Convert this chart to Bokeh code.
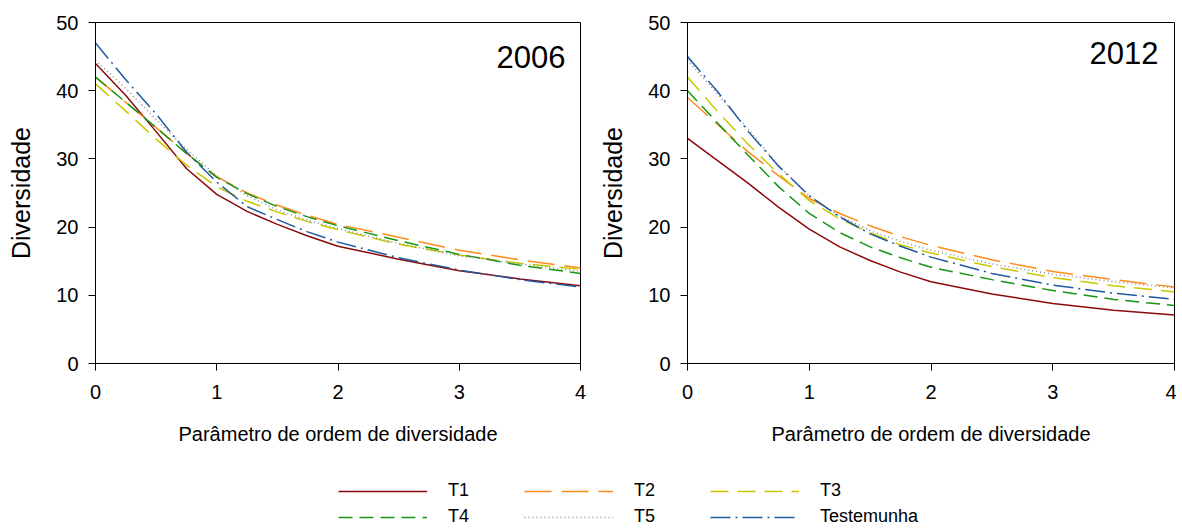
from bokeh.plotting import figure
from bokeh.models import Range1d, Label, Legend, LegendItem, FixedTicker
from bokeh.layouts import column, row
from bokeh.embed import file_html
from bokeh.resources import INLINE

# ---- data ----
q = [0, 0.25, 0.5, 0.75, 1, 1.25, 1.5, 1.75, 2, 2.5, 3, 3.5, 4]

series_names = ["T1", "T2", "T3", "T4", "T5", "Testemunha"]

d2006_T1 = [44.0, 39.3, 34.0, 28.6, 24.8, 22.3, 20.4, 18.7, 17.2, 15.3, 13.6, 12.4, 11.4]
d2006_T2 = [42.0, 38.3, 34.6, 30.8, 27.4, 25.0, 23.2, 21.7, 20.4, 18.5, 16.6, 15.2, 14.0]
d2006_T3 = [41.0, 37.0, 32.9, 29.1, 25.9, 23.8, 22.2, 20.8, 19.6, 17.5, 15.9, 14.7, 13.8]
d2006_T4 = [42.0, 38.3, 34.6, 30.8, 27.3, 24.9, 23.0, 21.5, 20.2, 18.0, 16.0, 14.4, 13.2]
d2006_T5 = [44.5, 40.3, 35.8, 31.4, 27.5, 24.6, 22.5, 21.0, 19.8, 17.6, 15.8, 14.6, 13.5]
d2006_Test = [47.0, 41.6, 36.6, 31.0, 26.6, 23.0, 21.1, 19.3, 17.8, 15.5, 13.7, 12.3, 11.2]

d2012_T1 = [33.0, 29.7, 26.4, 22.9, 19.7, 17.1, 15.1, 13.4, 12.0, 10.2, 8.8, 7.8, 7.1]
d2012_T2 = [39.0, 35.0, 31.0, 27.5, 24.2, 22.0, 20.2, 18.6, 17.3, 15.2, 13.5, 12.3, 11.2]
d2012_T3 = [42.0, 36.9, 32.1, 27.8, 23.9, 21.2, 19.2, 17.4, 16.2, 14.2, 12.6, 11.4, 10.5]
d2012_T4 = [40.0, 35.2, 30.5, 25.9, 22.0, 19.2, 17.1, 15.5, 14.1, 12.3, 10.7, 9.4, 8.5]
d2012_T5 = [44.5, 39.5, 34.3, 29.0, 24.6, 21.6, 19.5, 17.9, 16.6, 14.6, 13.1, 12.0, 11.1]
d2012_Test = [45.0, 39.8, 34.0, 28.9, 24.6, 21.5, 19.0, 17.2, 15.6, 13.2, 11.5, 10.3, 9.4]

x_ticks = [0, 1, 2, 3, 4]
y_ticks = [0, 10, 20, 30, 40, 50]
year_labels = ["2006", "2012"]
x_title = "Parâmetro de ordem de diversidade"
y_title = "Diversidade"

# ---- styles ----
FONT = "Liberation Sans"
colors = ["#8b0a0a", "#ff8c1a", "#c8c800", "#149614", "#8c8c8c", "#1f5a9e"]
dashes = ["solid", "27 10", "18 9", "14 7", "1 3", "20 5 2 5"]
LW = 1.5


def make_panel(data, year, border_left, frame_w, border_right, year_dx, year_dy):
    p = figure(output_backend="svg", toolbar_location=None,
               frame_width=frame_w, frame_height=341,
               min_border_left=border_left, min_border_right=border_right,
               min_border_top=22, min_border_bottom=100,
               x_range=Range1d(0, 4), y_range=Range1d(0, 50))
    p.background_fill_color = "white"
    p.border_fill_color = "white"
    p.outline_line_color = "black"
    p.outline_line_width = 1
    p.xgrid.visible = False
    p.ygrid.visible = False
    for ax in (p.xaxis[0], p.yaxis[0]):
        ax.axis_line_color = "black"
        ax.major_tick_line_color = "black"
        ax.major_tick_out = 7
        ax.major_tick_in = 0
        ax.minor_tick_line_color = None
        ax.major_label_text_font = FONT
        ax.major_label_text_font_size = "20px"
        ax.major_label_text_color = "black"
        ax.axis_label_text_font = FONT
        ax.axis_label_text_font_style = "normal"
        ax.axis_label_text_color = "black"
    p.xaxis.ticker = FixedTicker(ticks=x_ticks)
    p.yaxis.ticker = FixedTicker(ticks=y_ticks)
    p.xaxis.axis_label = x_title
    p.yaxis.axis_label = y_title
    p.xaxis.axis_label_text_font_size = "20px"
    p.yaxis.axis_label_text_font_size = "25px"
    p.xaxis.major_label_standoff = 14
    p.yaxis.major_label_standoff = 10
    p.xaxis.axis_label_standoff = 21
    p.yaxis.axis_label_standoff = 18
    for ys, c, d in zip(data, colors, dashes):
        p.line(q, ys, line_color=c, line_dash=d, line_width=LW)
    p.add_layout(Label(x=4, y=50, x_offset=year_dx, y_offset=year_dy, text=year,
                       text_align="right", text_baseline="middle",
                       text_font=FONT, text_font_size="31px", text_color="black"))
    return p


p1 = make_panel([d2006_T1, d2006_T2, d2006_T3, d2006_T4, d2006_T5, d2006_Test],
                year_labels[0], 95, 485, 12, -15, -34)
p2 = make_panel([d2012_T1, d2012_T2, d2012_T3, d2012_T4, d2012_T5, d2012_Test],
                year_labels[1], 95, 487, 2, -16, -30)

# ---- legend strip (renderers kept outside the visible range) ----
pl = figure(output_backend="svg", toolbar_location=None, width=1176, height=67,
            x_range=Range1d(-3, -2), y_range=Range1d(-3, -2),
            x_axis_type=None, y_axis_type=None,
            min_border_left=0, min_border_right=0, min_border_top=0, min_border_bottom=0)
pl.outline_line_color = None
pl.xgrid.visible = False
pl.ygrid.visible = False
items = []
legend_data = [d2006_T1, d2006_T2, d2006_T3, d2006_T4, d2006_T5, d2006_Test]
for name, ys, c, d in zip(series_names, legend_data, colors, dashes):
    r = pl.line(q, ys, line_color=c, line_dash=d, line_width=LW)
    items.append(LegendItem(label=name, renderers=[r]))
leg = Legend(items=items, location=(338, 3), orientation="horizontal", ncols=3,
             glyph_width=89, glyph_height=16, label_height=16, label_width=71,
             label_standoff=21, spacing=5, padding=0, margin=0,
             label_text_font=FONT, label_text_font_size="18px",
             label_text_color="black",
             border_line_color=None, background_fill_alpha=0)
pl.add_layout(leg)

layout = column(row(p1, p2, spacing=0), pl, spacing=0)
open("out.html", "w").write(file_html(layout, INLINE))
